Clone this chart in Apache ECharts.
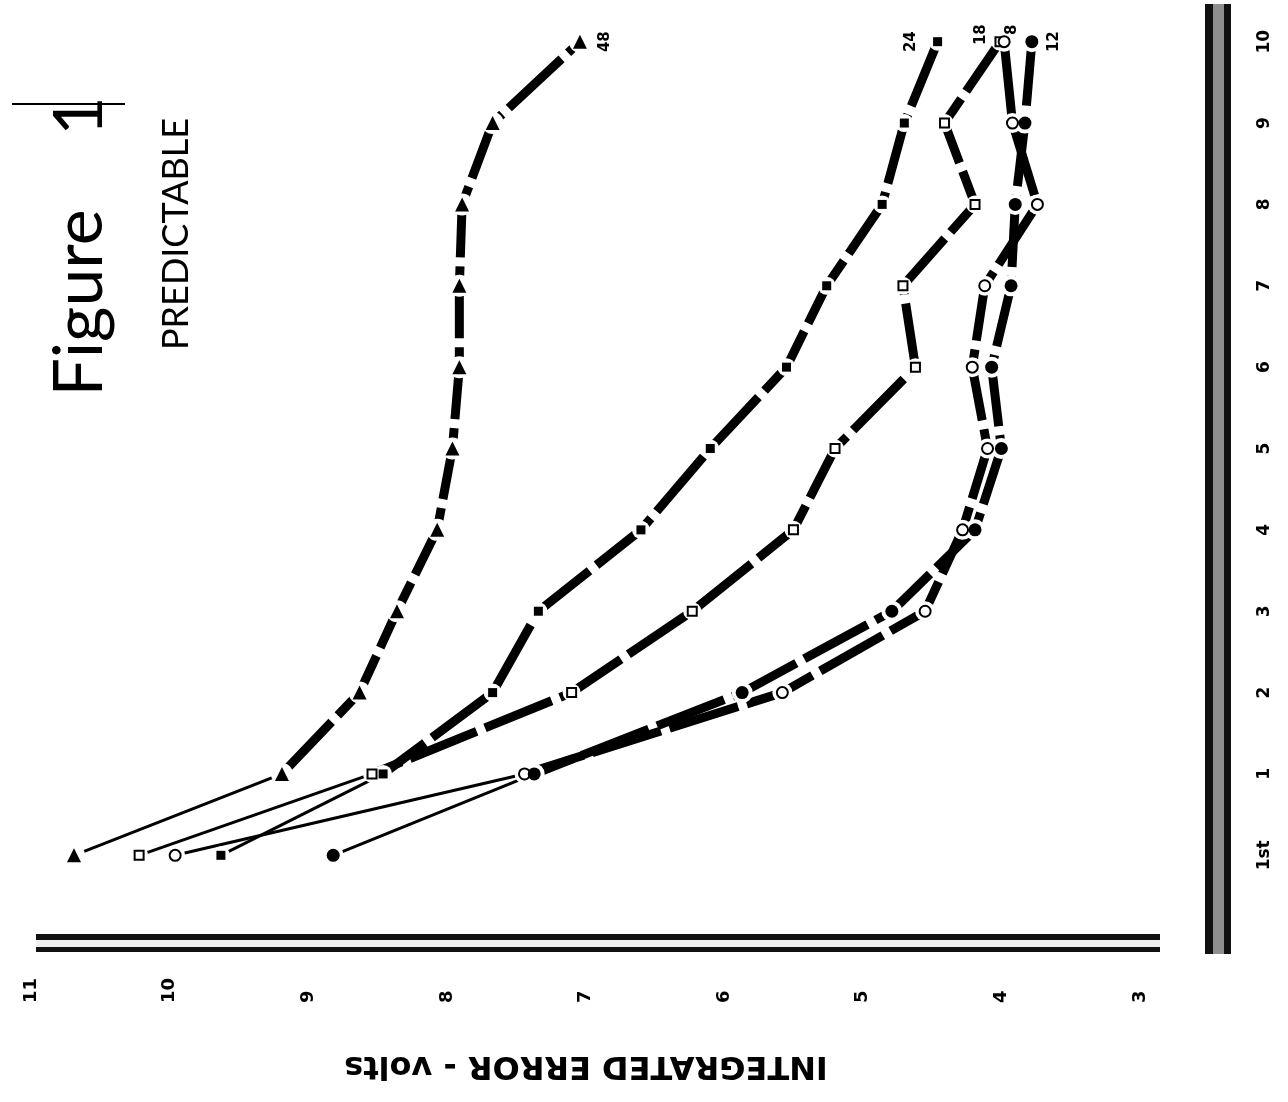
<!DOCTYPE html>
<html>
<head>
<meta charset="utf-8">
<title>Figure 1 - Predictable</title>
<script src="https://cdn.jsdelivr.net/npm/echarts@6/dist/echarts.min.js"></script>
<style>
  html, body { margin: 0; padding: 0; background: #fff; }
  #chart { width: 1288px; height: 1102px; }
</style>
</head>
<body>
<div id="chart"></div>
<script>
// the scanned figure is turned a quarter turn, so trials run up the right side
// and the error axis runs along the bottom (11 on the left, 3 on the right)
const trials = ['1st', '1', '2', '3', '4', '5', '6', '7', '8', '9', '10']
const errorMin = 3
const errorMax = 11

// integrated error (volts) per trial, one list per curve
const err48 = [10.69, 9.19, 8.63, 8.36, 8.07, 7.96, 7.91, 7.91, 7.89, 7.67, 7.04]
const err24 = [9.63, 8.46, 7.67, 7.34, 6.60, 6.10, 5.55, 5.26, 4.86, 4.70, 4.46]
const err18 = [10.22, 8.54, 7.10, 6.23, 5.50, 5.20, 4.62, 4.71, 4.19, 4.41, 4.01]
const err8 = [9.96, 7.44, 5.58, 4.55, 4.28, 4.10, 4.21, 4.12, 3.74, 3.92, 3.98]
const err12 = [8.82, 7.37, 5.87, 4.79, 4.19, 4.00, 4.07, 3.93, 3.90, 3.83, 3.78]

const curves = [
  { name: '48', data: err48 },
  { name: '24', data: err24 },
  { name: '18', data: err18 },
  { name: '8', data: err8 },
  { name: '12', data: err12 }
]

// marker look for each curve; label offsets are given in the turned label frame
const curveStyles = {
  '48': { symbol: 'triangle', size: 14, halo: 22, labelOffset: [0, 25], dashOffset: 0 },
  '24': { symbol: 'rect', size: 9, halo: 18, labelOffset: [0, -26], dashOffset: 20 },
  '18': { symbol: 'emptyRect', size: 9, halo: 18, labelOffset: [7, -19], dashOffset: 40 },
  '8': { symbol: 'emptyCircle', size: 11, halo: 20, labelOffset: [12, 8], dashOffset: 10 },
  '12': { symbol: 'circle', size: 13, halo: 21, labelOffset: [0, 22], dashOffset: 30 }
}

const tickFont = { fontFamily: 'DejaVu Sans', fontWeight: 'bold', color: '#000' }

const series = []
curves.forEach(c => {
  const st = curveStyles[c.name]
  const last = c.data.length - 1
  // thin stroke from the first trial to trial 1
  series.push({
    name: c.name,
    type: 'line',
    data: c.data.slice(0, 2),
    showSymbol: false,
    silent: true,
    z: 2,
    lineStyle: { color: '#000', width: 3 }
  })
  // heavy broken stroke for the rest
  series.push({
    type: 'line',
    data: ['-'].concat(c.data.slice(1)),
    showSymbol: false,
    silent: true,
    z: 2,
    lineStyle: { color: '#000', width: 9, type: [72, 9], dashOffset: st.dashOffset, cap: 'butt' }
  })
  // white gap round each marker
  series.push({
    type: 'line',
    data: c.data,
    symbol: 'circle',
    symbolSize: st.halo,
    showAllSymbol: true,
    silent: true,
    z: 3,
    itemStyle: { color: '#fff', borderWidth: 0 },
    lineStyle: { width: 0, opacity: 0 }
  })
  // markers, with the curve's name at its last point
  series.push({
    type: 'line',
    data: c.data.map((v, i) => i === last ? {
      value: v,
      label: {
        show: true,
        formatter: c.name,
        position: 'inside',
        offset: st.labelOffset,
        rotate: 90,
        align: 'center',
        verticalAlign: 'middle',
        fontSize: 15,
        fontFamily: 'DejaVu Sans',
        fontWeight: 'bold',
        color: '#000'
      }
    } : v),
    symbol: st.symbol,
    symbolSize: st.size,
    showAllSymbol: true,
    silent: true,
    z: 4,
    itemStyle: { color: '#000', borderColor: '#000', borderWidth: st.symbol.indexOf('empty') === 0 ? 2.5 : 0 },
    lineStyle: { width: 0, opacity: 0 },
    label: { show: false }
  })
})

// frame bars: each drawn by its own axis in its own grid
const verticalBar = { left: 36, right: 70, top: 4, bottom: 148 }
const horizontalBar = { left: 36, right: 128, top: 4, bottom: 159 }
const hidden = gridIndex => ({ type: 'value', gridIndex: gridIndex, min: 0, max: 1, show: false })
const barAxis = (gridIndex, position, color, width) => ({
  type: 'value',
  gridIndex: gridIndex,
  position: position,
  min: 0,
  max: 1,
  silent: true,
  axisLine: { show: true, onZero: false, lineStyle: { color: color, width: width, cap: 'butt' } },
  axisTick: { show: false },
  axisLabel: { show: false },
  splitLine: { show: false }
})

const option = {
  backgroundColor: '#fff',
  animation: false,
  grid: [
    { left: 31, right: 148, top: 1, bottom: 206 },
    verticalBar,
    verticalBar,
    horizontalBar,
    horizontalBar
  ],
  xAxis: [
    {
      type: 'value',
      gridIndex: 0,
      inverse: true,
      min: errorMin,
      max: errorMax,
      interval: 1,
      axisLine: { show: false },
      axisTick: { show: false },
      splitLine: { show: false },
      axisLabel: Object.assign({ rotate: 90, margin: 107, align: 'left', verticalAlign: 'middle', fontSize: 18 }, tickFont)
    },
    hidden(1),
    hidden(2),
    barAxis(3, 'bottom', '#111', 18),
    barAxis(4, 'bottom', '#efefef', 7)
  ],
  yAxis: [
    {
      type: 'category',
      gridIndex: 0,
      position: 'right',
      data: trials,
      axisLine: { show: false },
      axisTick: { show: false },
      splitLine: { show: false },
      axisLabel: Object.assign({ rotate: 90, margin: 116, align: 'center', verticalAlign: 'top', fontSize: 17 }, tickFont)
    },
    barAxis(1, 'right', '#111', 26),
    barAxis(2, 'right', '#8f8f8f', 11),
    hidden(3),
    hidden(4)
  ],
  graphic: [
    {
      type: 'text', x: 80, y: 303, rotation: Math.PI / 2, silent: true,
      style: { text: 'Figure', font: '68px Lato', fill: '#000', align: 'center', verticalAlign: 'middle', textAlign: 'center', textVerticalAlign: 'middle' }
    },
    {
      type: 'text', x: 80, y: 116, rotation: Math.PI / 2, silent: true,
      style: { text: '1', font: '68px Lato', fill: '#000', align: 'center', verticalAlign: 'middle', textAlign: 'center', textVerticalAlign: 'middle' }
    },
    {
      type: 'line', silent: true,
      shape: { x1: 12, y1: 104, x2: 125, y2: 104 },
      style: { stroke: '#000', lineWidth: 2 }
    },
    {
      type: 'text', x: 176, y: 234, rotation: Math.PI / 2, silent: true,
      style: { text: 'PREDICTABLE', font: '36px Lato', fill: '#000', align: 'center', verticalAlign: 'middle', textAlign: 'center', textVerticalAlign: 'middle' }
    },
    {
      type: 'text', x: 586, y: 1065, rotation: Math.PI, silent: true,
      style: { text: 'INTEGRATED ERROR - volts', font: 'bold 32px "DejaVu Sans"', fill: '#000', align: 'center', verticalAlign: 'middle', textAlign: 'center', textVerticalAlign: 'middle' }
    }
  ],
  series: series
}

const chart = echarts.init(document.getElementById('chart'))
chart.setOption(option)
</script>
</body>
</html>
